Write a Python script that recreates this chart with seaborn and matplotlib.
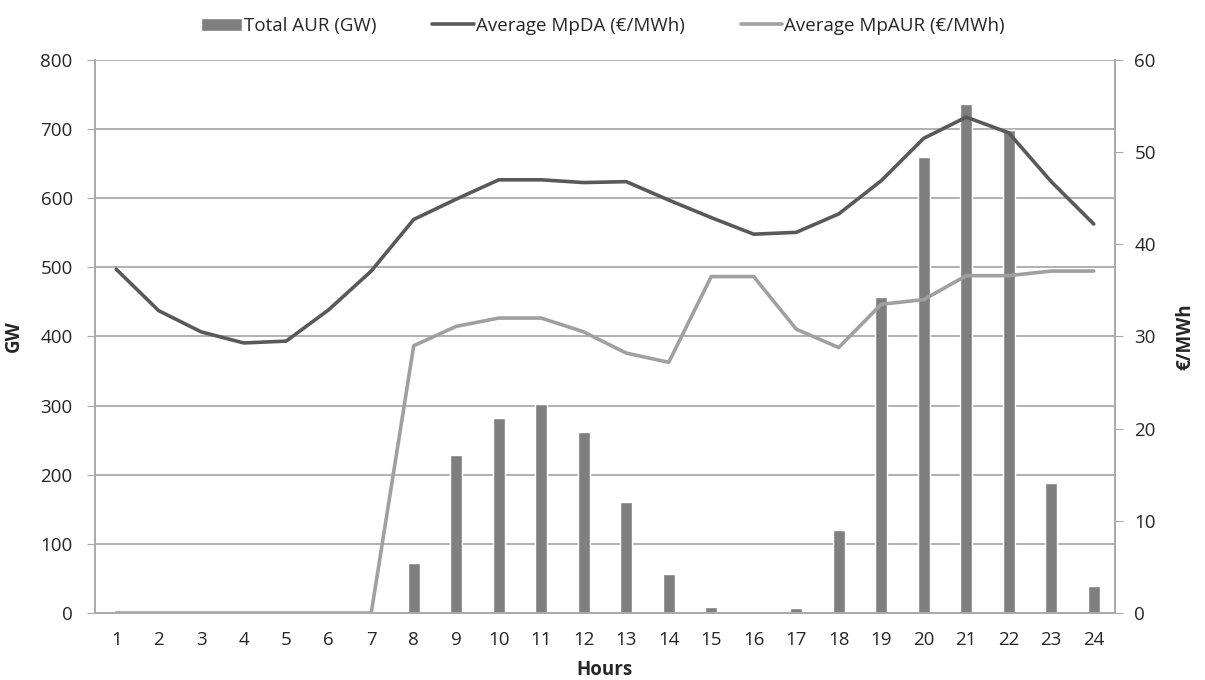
import pandas as pd
import seaborn as sns
import matplotlib.pyplot as plt

hours = [str(h) for h in range(1, 25)]
total_aur = [0, 0, 0, 0, 0, 0, 0, 72, 229, 282, 302, 262, 161, 56, 9, 1, 7, 120, 457, 660, 737, 698, 188, 39]
mpda = [37.3, 32.8, 30.5, 29.3, 29.5, 32.9, 37.1, 42.7, 44.9, 47.0, 47.0, 46.7,
        46.8, 44.8, 42.9, 41.1, 41.3, 43.3, 46.9, 51.5, 53.8, 52.1, 46.8, 42.2]
mpaur = [0, 0, 0, 0, 0, 0, 0, 29.0, 31.1, 32.0, 32.0, 30.5,
         28.2, 27.2, 36.5, 36.5, 30.8, 28.8, 33.5, 34.0, 36.6, 36.6, 37.1, 37.1]

df = pd.DataFrame({'Hours': hours, 'AUR': total_aur, 'MpDA': mpda, 'MpAUR': mpaur})

sns.set_style('white')
plt.rcParams['font.family'] = ['Open Sans', 'DejaVu Sans']

fig = plt.figure(figsize=(12.05, 6.8), dpi=100)
ax = fig.add_axes([0.0788, 0.0985, 0.8465, 0.8133])
grid_c = '#aaaaaa'
fs = 13.5

sns.barplot(data=df, x='Hours', y='AUR', color='#7f7f7f', width=0.28,
            saturation=1, ax=ax, label='Total AUR (GW)', zorder=2)
ax.set_ylim(0, 800)
ax.set_yticks(range(0, 801, 100))
ax.yaxis.grid(True, color=grid_c, linewidth=1.3, zorder=0)
ax.set_axisbelow(True)

ax2 = ax.twinx()
sns.lineplot(data=df, x='Hours', y='MpDA', color='#595959', linewidth=2.6,
             ax=ax2, label='Average MpDA (€/MWh)')
sns.lineplot(data=df, x='Hours', y='MpAUR', color='#a0a0a0', linewidth=2.6,
             ax=ax2, label='Average MpAUR (€/MWh)')
ax2.set_ylim(0, 60)
ax2.set_yticks(range(0, 61, 10))
ax.set_xlim(-0.5, 23.5)

for a in (ax, ax2):
    a.spines['top'].set_visible(False)
    for s in ['left', 'right', 'bottom']:
        a.spines[s].set_color(grid_c)
        a.spines[s].set_linewidth(1.3)

ax.tick_params(axis='y', length=6, color=grid_c, labelsize=fs, pad=10)
ax.tick_params(axis='x', length=0, labelsize=fs, pad=13)
ax2.tick_params(axis='y', length=6, color=grid_c, labelsize=fs, pad=8)

ax.set_xlabel('Hours', fontsize=fs, fontweight='bold', labelpad=8)
ax.set_ylabel('GW', fontsize=fs, fontweight='bold', labelpad=12)
ax2.set_ylabel('€/MWh', fontsize=fs, fontweight='bold', labelpad=14)

h1, l1 = ax.get_legend_handles_labels()
h2, l2 = ax2.get_legend_handles_labels()
for a in (ax, ax2):
    if a.get_legend():
        a.get_legend().remove()
fig.legend(h1 + h2, l1 + l2, loc='upper center', bbox_to_anchor=(0.5, 1.0),
           ncol=3, frameon=False, fontsize=fs, handlelength=2.2,
           handletextpad=0.1, columnspacing=3)

fig.savefig('out.png', dpi=100)
